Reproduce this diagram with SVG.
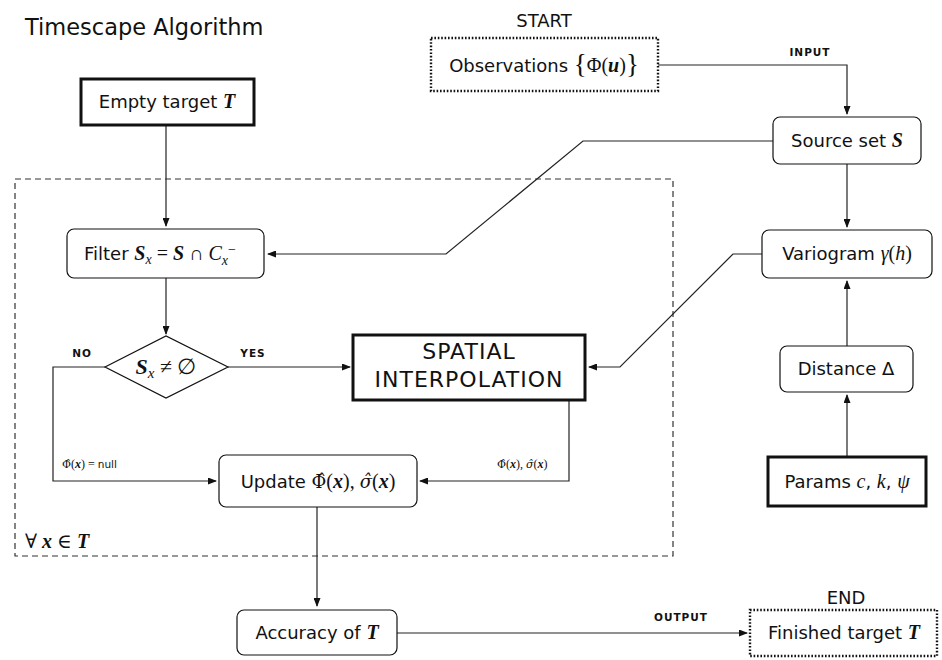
<svg xmlns="http://www.w3.org/2000/svg" width="942" height="660" viewBox="0 0 942 660">
<defs>
<marker id="arr" markerWidth="9" markerHeight="7" refX="8" refY="3.5" orient="auto" markerUnits="userSpaceOnUse">
<path d="M0,0 L9,3.5 L0,7 z" fill="#111"/>
</marker>
<style>
.t{font-family:"DejaVu Sans","Liberation Sans",sans-serif;font-size:18px;fill:#111;text-anchor:middle}
.m{font-family:"Liberation Serif","DejaVu Serif",serif;font-style:italic;font-size:20px}
.b{font-weight:bold}
.n{font-family:"Liberation Serif","DejaVu Serif",serif;font-style:normal;font-size:20px}
.h{font-family:"DejaVu Serif",serif;font-size:18px}
.box{fill:#fff;stroke:#111;stroke-width:1.2}
.thick{fill:#fff;stroke:#111;stroke-width:3}
.dot{fill:#fff;stroke:#111;stroke-width:2.4;stroke-dasharray:1.6 1.8}
.c{fill:none;stroke:#222;stroke-width:1.2}
.lab{font-family:"DejaVu Sans","Liberation Sans",sans-serif;font-size:10.5px;font-weight:bold;letter-spacing:1px;fill:#111;text-anchor:middle}
.el{font-family:"Liberation Serif","DejaVu Serif",serif;font-size:12px;fill:#111}
</style>
</defs>
<rect width="942" height="660" fill="#fff"/>
<text x="25" y="35" class="t" style="text-anchor:start;font-size:22.5px">Timescape Algorithm</text>

<g id="loop">
<rect x="15" y="179" width="658" height="377" fill="none" stroke="#333" stroke-width="1.2" stroke-dasharray="6 4"/>
<text x="25" y="548" class="t" style="text-anchor:start"><tspan class="n">∀ </tspan><tspan class="m b">x </tspan><tspan class="n">∈ </tspan><tspan class="m b">T</tspan></text>
</g>

<g id="connectors">
<path class="c" d="M658,65 H847 V114" marker-end="url(#arr)"/>
<text x="810" y="56" class="lab">INPUT</text>
<path class="c" d="M847,164 V227" marker-end="url(#arr)"/>
<path class="c" d="M773,141 H583 L446,254 H268" marker-end="url(#arr)"/>
<path class="c" d="M762,254 H733 L620,367 H589" marker-end="url(#arr)"/>
<path class="c" d="M847,457 V395" marker-end="url(#arr)"/>
<path class="c" d="M847,346 V281" marker-end="url(#arr)"/>
<path class="c" d="M166,125 V226" marker-end="url(#arr)"/>
<path class="c" d="M166,278 V334" marker-end="url(#arr)"/>
<path class="c" d="M228,367 H350" marker-end="url(#arr)"/>
<text x="253" y="357" class="lab">YES</text>
<path class="c" d="M105,367 H53 V481 H216" marker-end="url(#arr)"/>
<text x="82" y="357" class="lab">NO</text>
<text x="62" y="468" class="el"><tspan style="font-family:'DejaVu Serif',serif;font-size:11px">Φ̂</tspan>(<tspan class="b" style="font-style:italic">x</tspan>) = <tspan style="font-family:'DejaVu Sans',sans-serif;font-size:10.5px">null</tspan></text>
<path class="c" d="M569,400 V481 H420" marker-end="url(#arr)"/>
<text x="497" y="468" class="el"><tspan style="font-family:'DejaVu Serif',serif;font-size:11px">Φ̂</tspan>(<tspan class="b" style="font-style:italic">x</tspan>), <tspan style="font-family:'DejaVu Serif',serif;font-size:11px;font-style:italic">σ̂</tspan>(<tspan class="b" style="font-style:italic">x</tspan>)</text>
<path class="c" d="M317,507 V606" marker-end="url(#arr)"/>
<path class="c" d="M397,633 H747" marker-end="url(#arr)"/>
<text x="681" y="621" class="lab">OUTPUT</text>
</g>

<g id="start">
<text x="544" y="27" class="t">START</text>
<rect x="431" y="38" width="227" height="53" class="dot"/>
<text x="544" y="72" class="t">Observations <tspan class="n" style="font-size:27px" dy="1">{</tspan><tspan class="n" dy="-1">Φ(</tspan><tspan class="m b">u</tspan><tspan class="n">)</tspan><tspan class="n" style="font-size:27px" dy="1">}</tspan></text>
</g>

<g id="empty">
<rect x="81" y="79" width="173" height="46" class="thick"/>
<text x="167" y="108" class="t">Empty target <tspan class="m b">T</tspan></text>
</g>

<g id="source">
<rect x="773" y="117" width="148" height="47" rx="7" class="box"/>
<text x="847" y="147" class="t">Source set <tspan class="m b">S</tspan></text>
</g>

<g id="filter">
<rect x="67" y="229" width="197" height="49" rx="7" class="box"/>
<text x="160" y="260" class="t">Filter <tspan class="m b">S</tspan><tspan class="m" dy="4" style="font-size:14px">x</tspan><tspan class="n" dy="-4"> = </tspan><tspan class="m b">S</tspan><tspan class="n"> ∩ </tspan><tspan class="m">C</tspan><tspan class="m" dy="5" style="font-size:14px">x</tspan><tspan class="n" dy="-11" style="font-size:14px">−</tspan></text>
</g>

<g id="variogram">
<rect x="762" y="230" width="170" height="48" rx="7" class="box"/>
<text x="847" y="260" class="t">Variogram <tspan class="m">γ</tspan><tspan class="n">(</tspan><tspan class="m">h</tspan><tspan class="n">)</tspan></text>
</g>

<g id="decision">
<polygon points="105,367 166,336 228,367 166,398" fill="#fff" stroke="#111" stroke-width="1.2"/>
<text x="166" y="374" class="t"><tspan class="m b" style="font-size:22px">S</tspan><tspan class="m" dy="4" style="font-size:15px">x</tspan><tspan class="n" dy="-4" style="font-size:22px"> ≠ ∅</tspan></text>
</g>

<g id="spatial">
<rect x="353" y="335" width="232" height="65" class="thick"/>
<text x="469" y="359" class="t" style="font-size:22px;letter-spacing:1px">SPATIAL</text>
<text x="469" y="387" class="t" style="font-size:22px;letter-spacing:1px">INTERPOLATION</text>
</g>

<g id="distance">
<rect x="780" y="346" width="133" height="46" rx="7" class="box"/>
<text x="846" y="375" class="t">Distance Δ</text>
</g>

<g id="params">
<rect x="768" y="457" width="158" height="49" class="thick"/>
<text x="847" y="488" class="t">Params <tspan class="m">c</tspan>, <tspan class="m">k</tspan>, <tspan class="m">ψ</tspan></text>
</g>

<g id="update">
<rect x="219" y="455" width="198" height="52" rx="7" class="box"/>
<text x="318" y="488" class="t">Update <tspan class="h">Φ̂</tspan><tspan class="n">(</tspan><tspan class="m b">x</tspan><tspan class="n">), </tspan><tspan class="h" style="font-style:italic">σ̂</tspan><tspan class="n">(</tspan><tspan class="m b">x</tspan><tspan class="n">)</tspan></text>
</g>

<g id="accuracy">
<rect x="237" y="610" width="160" height="45" rx="7" class="box"/>
<text x="317" y="639" class="t">Accuracy of <tspan class="m b">T</tspan></text>
</g>

<g id="finished">
<text x="846" y="604" class="t">END</text>
<rect x="750" y="610" width="187" height="46" class="dot"/>
<text x="844" y="639" class="t">Finished target <tspan class="m b">T</tspan></text>
</g>
</svg>
